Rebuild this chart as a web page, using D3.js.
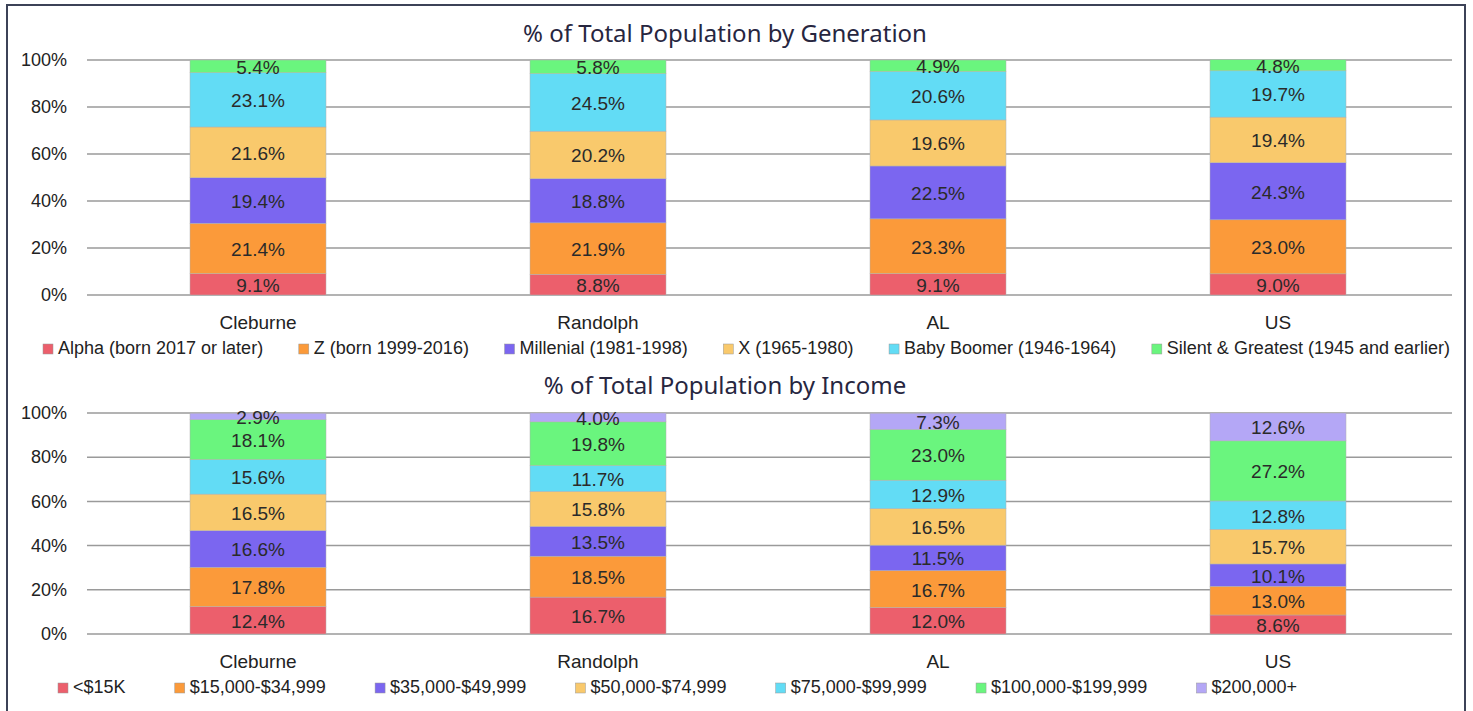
<!DOCTYPE html>
<html>
<head>
<meta charset="utf-8">
<script src="https://cdn.jsdelivr.net/npm/d3@7"></script>
<style>
  body { margin: 0; background: #fff; }
  text { font-family: "Liberation Sans", Arial, sans-serif; }
  .title { font-family: "Noto Sans", "Open Sans", sans-serif; fill: #27263f; }
</style>
</head>
<body>
<div class="container"></div>
<script>
const categories = ["Cleburne", "Randolph", "AL", "US"];

// generation chart
const genKeys = [
  "Alpha (born 2017 or later)",
  "Z (born 1999-2016)",
  "Millenial (1981-1998)",
  "X (1965-1980)",
  "Baby Boomer (1946-1964)",
  "Silent & Greatest (1945 and earlier)",
];
const genAlpha = [9.1, 8.8, 9.1, 9.0];
const genZ = [21.4, 21.9, 23.3, 23.0];
const genMillenial = [19.4, 18.8, 22.5, 24.3];
const genX = [21.6, 20.2, 19.6, 19.4];
const genBoomer = [23.1, 24.5, 20.6, 19.7];
const genSilent = [5.4, 5.8, 4.9, 4.8];

// income chart
const incKeys = [
  "<$15K",
  "$15,000-$34,999",
  "$35,000-$49,999",
  "$50,000-$74,999",
  "$75,000-$99,999",
  "$100,000-$199,999",
  "$200,000+",
];
const incUnder15 = [12.4, 16.7, 12.0, 8.6];
const inc15to35 = [17.8, 18.5, 16.7, 13.0];
const inc35to50 = [16.6, 13.5, 11.5, 10.1];
const inc50to75 = [16.5, 15.8, 16.5, 15.7];
const inc75to100 = [15.6, 11.7, 12.9, 12.8];
const inc100to200 = [18.1, 19.8, 23.0, 27.2];
const inc200plus = [2.9, 4.0, 7.3, 12.6];

const yTicks = [0, 20, 40, 60, 80, 100];

const colors = ["#ec5f6c", "#fb9a3a", "#7b66f0", "#f9c96c", "#62dcf5", "#6af57e", "#b4a7f6"];

const W = 1473, H = 711;

const svg = d3.select(".container").append("svg")
  .attr("width", W)
  .attr("height", H);

// outer frame
svg.append("rect")
  .attr("x", 7).attr("y", 5)
  .attr("width", 1458).attr("height", 740)
  .attr("fill", "none")
  .attr("stroke", "#3c4257")
  .attr("stroke-width", 2);

function buildRows(keys, series) {
  return categories.map((c, i) => {
    const row = { cat: c };
    keys.forEach((k, j) => row[k] = series[j][i]);
    return row;
  });
}

function drawChart(opt) {
  const g = svg.append("g");
  const rows = buildRows(opt.keys, opt.series);

  const x = d3.scaleBand().domain(categories)
    .range([88, 1448]).paddingInner(0.6).paddingOuter(0.3);
  const y = d3.scaleLinear().domain([0, 100]).range([opt.bottom, opt.top]);
  const color = d3.scaleOrdinal().domain(opt.keys).range(colors);

  g.append("text")
    .attr("class", "title")
    .attr("x", opt.titleX).attr("y", opt.titleY)
    .attr("text-anchor", "middle")
    .attr("font-size", 24)
    .text(opt.title);

  // gridlines
  g.append("g").selectAll("line")
    .data(yTicks)
    .join("line")
    .attr("x1", 87).attr("x2", 1452)
    .attr("y1", d => y(d)).attr("y2", d => y(d))
    .attr("stroke", "#9a9a9a")
    .attr("stroke-width", 1.5);

  // y labels
  const yAxis = d3.axisLeft(y).tickValues(yTicks).tickSize(0).tickPadding(0)
    .tickFormat(d => d + "%");
  g.append("g")
    .attr("transform", "translate(67,0)")
    .call(yAxis)
    .call(a => a.select(".domain").remove())
    .selectAll("text")
    .attr("font-size", 18)
    .attr("font-family", "Liberation Sans, Arial, sans-serif")
    .attr("fill", "#222");

  const stacked = d3.stack().keys(opt.keys)(rows);

  const layer = g.append("g").selectAll("g")
    .data(stacked)
    .join("g")
    .attr("fill", d => color(d.key));

  layer.selectAll("rect")
    .data(d => d)
    .join("rect")
    .attr("x", d => x(d.data.cat))
    .attr("width", x.bandwidth())
    .attr("y", d => y(d[1]))
    .attr("height", d => y(d[0]) - y(d[1]))
    .attr("stroke", "#b0b0b0")
    .attr("stroke-width", 0.5);

  layer.selectAll("text")
    .data(d => d)
    .join("text")
    .attr("x", d => x(d.data.cat) + x.bandwidth() / 2)
    .attr("y", d => (y(d[0]) + y(d[1])) / 2 + 1)
    .attr("text-anchor", "middle")
    .attr("dominant-baseline", "central")
    .attr("font-size", 19)
    .attr("fill", "#2a2a2a")
    .text(d => (d[1] - d[0]).toFixed(1) + "%");

  // category labels
  const xAxis = d3.axisBottom(x).tickSize(0).tickPadding(0);
  g.append("g")
    .attr("transform", `translate(0,${opt.catY})`)
    .call(xAxis)
    .call(a => a.select(".domain").remove())
    .selectAll("text")
    .attr("dy", 0)
    .attr("font-size", 19)
    .attr("font-family", "Liberation Sans, Arial, sans-serif")
    .attr("fill", "#222");

  // legend: measure then spread over the span
  const leg = g.append("g");
  const items = leg.selectAll("g")
    .data(opt.keys)
    .join("g");
  items.append("rect")
    .attr("width", 10).attr("height", 10)
    .attr("y", -10)
    .attr("fill", d => color(d))
    .attr("stroke", "#999")
    .attr("stroke-width", 0.5);
  items.append("text")
    .attr("x", 15)
    .attr("font-size", 18)
    .attr("fill", "#222")
    .text(d => d);
  const widths = [];
  items.each(function () {
    widths.push(15 + d3.select(this).select("text").node().getComputedTextLength());
  });
  const total = d3.sum(widths);
  const gap = (opt.legendSpan[1] - opt.legendSpan[0] - total) / (opt.keys.length - 1);
  let cx = opt.legendSpan[0];
  items.attr("transform", (d, i) => {
    const t = `translate(${cx},${opt.legendY})`;
    cx += widths[i] + gap;
    return t;
  });
}

drawChart({
  title: "% of Total Population by Generation",
  titleX: 725, titleY: 42,
  keys: genKeys,
  series: [genAlpha, genZ, genMillenial, genX, genBoomer, genSilent],
  top: 60, bottom: 295,
  catY: 329,
  legendY: 354,
  legendSpan: [43, 1450],
});

drawChart({
  title: "% of Total Population by Income",
  titleX: 725, titleY: 394,
  keys: incKeys,
  series: [incUnder15, inc15to35, inc35to50, inc50to75, inc75to100, inc100to200, inc200plus],
  top: 413, bottom: 634,
  catY: 668,
  legendY: 693,
  legendSpan: [58, 1297],
});
</script>
</body>
</html>
